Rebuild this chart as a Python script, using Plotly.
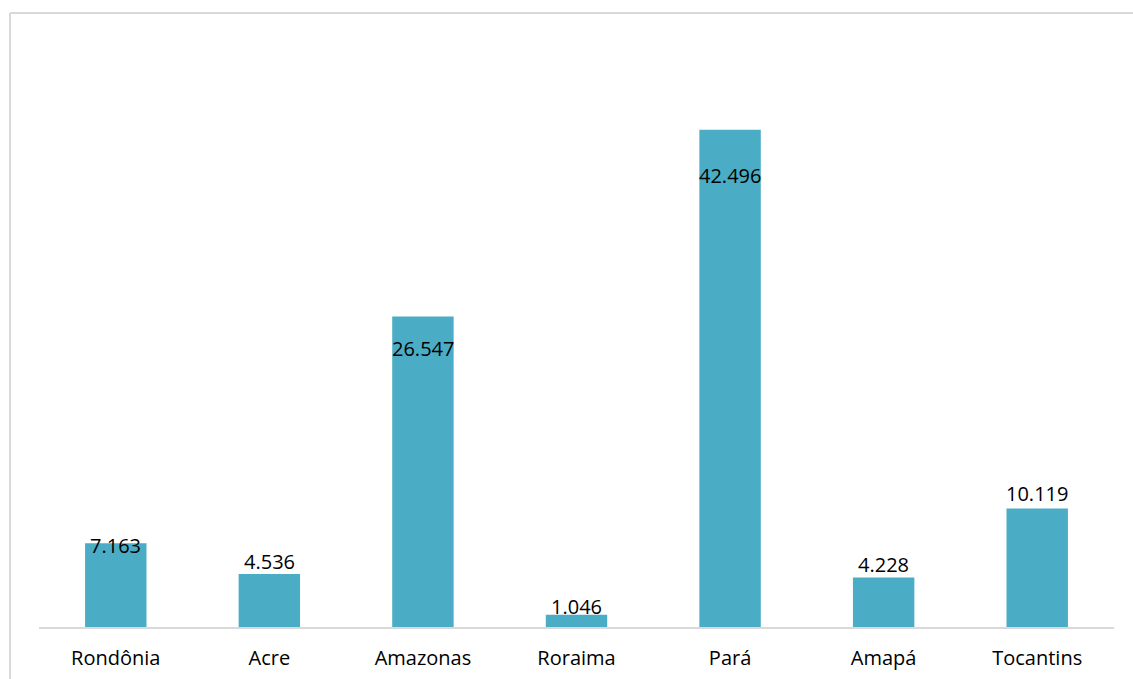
import plotly.graph_objects as go

categories = ["Rondônia", "Acre", "Amazonas", "Roraima", "Pará", "Amapá", "Tocantins"]
values = [7.163, 4.536, 26.547, 1.046, 42.496, 4.228, 10.119]
value_labels = ["7.163", "4.536", "26.547", "1.046", "42.496", "4.228", "10.119"]
# vertical label offsets in px (positive = above bar top)
label_shift = [-2, 12, -32, 8, -46, 13, 15]

fig = go.Figure()
fig.add_trace(go.Bar(
    x=categories, y=values,
    marker=dict(color="#4BACC6", line=dict(width=0)),
    hoverinfo="skip",
))

for c, v, t, s in zip(categories, values, value_labels, label_shift):
    fig.add_annotation(x=c, y=v, text=t, showarrow=False, yanchor="middle",
                       yshift=s, font=dict(family="Open Sans", size=20, color="#000000"))

W, H = 1133, 679
ml, mr, mt, mb = 39, 19, 42, 52
fig.update_layout(
    width=W, height=H,
    margin=dict(l=ml, r=mr, t=mt, b=mb),
    paper_bgcolor="white", plot_bgcolor="white",
    bargap=0.6, showlegend=False,
    font=dict(family="Open Sans", size=20, color="#000000"),
    xaxis=dict(showline=True, linecolor="#d9d9d9", linewidth=2, showgrid=False,
               automargin=False,
               ticks="", ticklabelstandoff=12, tickfont=dict(size=20, family="Open Sans")),
    yaxis=dict(range=[0, 50], visible=False, showgrid=False, zeroline=False,
               automargin=False),
)

# chart frame (partially cropped in the reference)
pw = W - ml - mr
ph = H - mt - mb
x0 = (10 - ml) / pw
y1 = 1 + (mt - 13) / ph
fig.add_shape(type="line", xref="paper", yref="paper", x0=x0, x1=x0, y0=-mb / ph - 0.01, y1=y1,
              line=dict(color="#d9d9d9", width=2))
fig.add_shape(type="line", xref="paper", yref="paper", x0=x0, x1=1 + mr / pw + 0.01, y0=y1, y1=y1,
              line=dict(color="#d9d9d9", width=2))

fig.write_html("out.html")
